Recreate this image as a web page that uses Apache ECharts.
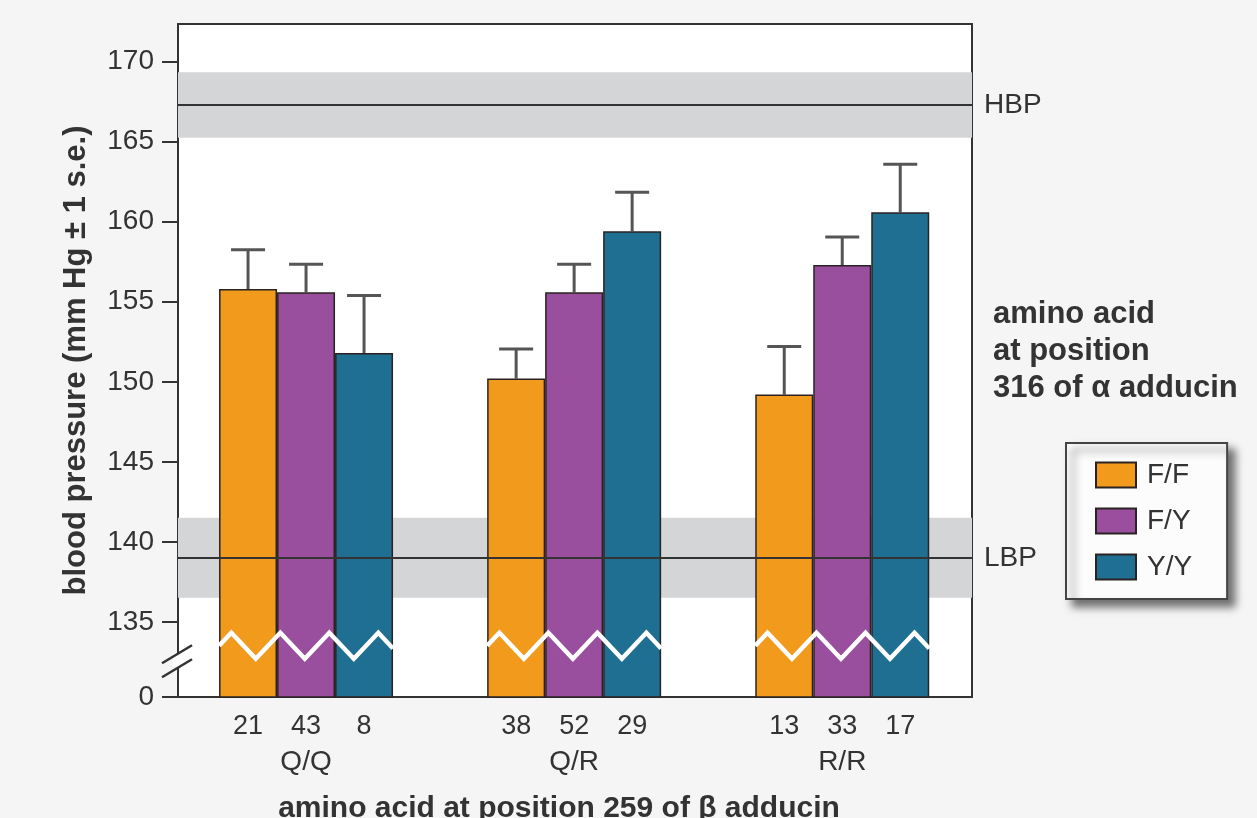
<!DOCTYPE html>
<html><head><meta charset="utf-8">
<script src="https://cdn.jsdelivr.net/npm/echarts@6/dist/echarts.min.js"></script>
<style>html,body{margin:0;padding:0;background:#f5f5f5;}#c{width:1257px;height:818px;}</style>
</head><body><div id="c"></div>
<script>
// ---- data ----
const categories = ['Q/Q', 'Q/R', 'R/R'];
const seriesNames = ['F/F', 'F/Y', 'Y/Y'];
const ffValues = [155.8, 150.2, 149.2];
const fyValues = [155.6, 155.6, 157.3];
const yyValues = [151.8, 159.4, 160.6];
const ffSE = [2.45, 1.85, 3.0];
const fySE = [1.75, 1.75, 1.75];
const yySE = [3.6, 2.45, 3.0];
const ffCounts = [21, 38, 13];
const fyCounts = [43, 52, 33];
const yyCounts = [8, 29, 17];
const yTickValues = [130.3, 135, 140, 145, 150, 155, 160, 165, 170];
const refLabels = ['HBP', 'LBP'];
const refMeans = [167.3, 139.0];
const refHalfWidths = [2.05, 2.5];
const breakLevel = 133.5;

// ---- styling ----
const FONT = '"Liberation Sans", Arial, Helvetica, sans-serif';
const colors = ['#F29A1C', '#9A4E9E', '#1E6F91'];
const BAR_W = 58;
const values = [ffValues, fyValues, yyValues];
const ses = [ffSE, fySE, yySE];
const X_MIN = -0.4776, X_MAX = 2.484, Y_MIN = 130.3, Y_MAX = 172.36;

const chart = echarts.init(document.getElementById('c'), null, {renderer: 'canvas'});

const barSeries = seriesNames.map((name, s) => ({
  name: name,
  type: 'bar',
  barWidth: BAR_W,
  barGap: '0%',
  z: 3,
  itemStyle: {color: colors[s], borderColor: '#2b2222', borderWidth: 1.5},
  data: categories.map((c, g) => [g, values[s][g]])
}));

const errData = [];
seriesNames.forEach((n, s) => categories.forEach((c, g) => {
  errData.push([g, s, values[s][g], values[s][g] + ses[s][g]]);
}));

const errSeries = {
  type: 'custom',
  z: 2,
  silent: true,
  encode: {x: 0, y: 3},
  data: errData,
  renderItem: function (params, api) {
    const g = api.value(0), s = api.value(1);
    const p0 = api.coord([g, api.value(2)]);
    const p1 = api.coord([g, api.value(3)]);
    const x = p0[0] + (s - 1) * BAR_W;
    const st = {stroke: '#555', lineWidth: 3};
    return {type: 'group', children: [
      {type: 'line', shape: {x1: x, y1: p0[1], x2: x, y2: p1[1]}, style: st},
      {type: 'line', shape: {x1: x - 17, y1: p1[1], x2: x + 17, y2: p1[1]}, style: st}
    ]};
  }
};

const zigSeries = {
  type: 'custom',
  z: 5,
  silent: true,
  encode: {x: 0, y: 1},
  data: categories.map((c, g) => [g, breakLevel]),
  renderItem: function (params, api) {
    const c = api.coord([api.value(0), api.value(1)]);
    const amp = 13;
    const half = 24.5;
    const x0 = c[0] - 1.5 * BAR_W, x1 = c[0] + 1.5 * BAR_W;
    const pts = [[x0, c[1]]];
    let x = x0 + half / 2, up = true;
    while (x < x1) {
      pts.push([x, c[1] + (up ? -amp : amp)]);
      up = !up; x += half;
    }
    const prev = pts[pts.length - 1];
    const frac = (x1 - prev[0]) / half;
    const endY = prev[1] + (up ? -1 : 1) * 2 * amp * frac;
    pts.push([x1, endY]);
    return {type: 'polyline', shape: {points: pts},
      style: {stroke: '#ffffff', lineWidth: 4.5, fill: null, lineJoin: 'miter'}};
  }
};

const refSeries = {
  type: 'line',
  z: 1,
  silent: true,
  data: [],
  markArea: {
    silent: true,
    itemStyle: {color: '#d3d5d7'},
    label: {show: false},
    data: refMeans.map((m, i) => [{yAxis: m - refHalfWidths[i]}, {yAxis: m + refHalfWidths[i]}])
  },
  markLine: {
    silent: true,
    symbol: 'none',
    lineStyle: {color: '#333', width: 2, type: 'solid'},
    label: {show: true, position: 'end', distance: 12, color: '#333', fontSize: 28, fontFamily: FONT,
      formatter: p => refLabels[p.dataIndex]},
    data: refMeans.map(m => ({yAxis: m}))
  }
};

const annotation = {type: 'text', left: 993, top: 296, z: 10,
  style: {text: 'amino acid\nat position\n316 of \u03b1 adducin', fontSize: 31, fontWeight: 'bold',
    fill: '#333', fontFamily: FONT, lineHeight: 37}};

const option = {
  backgroundColor: '#f5f5f5',
  animation: false,
  grid: {left: 178, right: 285, top: 24, bottom: 121, show: true, backgroundColor: '#ffffff',
    borderColor: '#333', borderWidth: 2, containLabel: false, outerBoundsMode: 'none'},
  legend: {
    data: seriesNames,
    orient: 'vertical',
    left: 1066, top: 443,
    padding: [18, 35, 18, 29],
    itemGap: 18,
    itemWidth: 40, itemHeight: 25,
    icon: 'rect',
    backgroundColor: '#fcfcfc',
    borderColor: '#444', borderWidth: 2,
    shadowColor: 'rgba(0,0,0,0.55)', shadowBlur: 8, shadowOffsetX: 7, shadowOffsetY: 7,
    textStyle: {fontSize: 28, color: '#333', fontFamily: FONT, padding: [0, 0, 0, 6]}
  },
  xAxis: {
    type: 'value', min: X_MIN, max: X_MAX,
    splitLine: {show: false},
    axisTick: {show: false},
    axisLine: {show: true, onZero: false, lineStyle: {color: '#333', width: 2}},
    axisLabel: {
      customValues: categories.map((c, g) => g),
      margin: 13,
      formatter: function (v) {
        const g = Math.round(v);
        return '{n|' + ffCounts[g] + '}{n|' + fyCounts[g] + '}{n|' + yyCounts[g] + '}\n{g|' + categories[g] + '}';
      },
      rich: {
        n: {width: BAR_W, align: 'center', fontSize: 27, color: '#333', fontFamily: FONT, lineHeight: 34},
        g: {align: 'center', fontSize: 28, color: '#333', fontFamily: FONT, lineHeight: 37}
      }
    },
    name: 'amino acid at position 259 of \u03b2 adducin',
    nameLocation: 'middle',
    nameGap: 97,
    nameTextStyle: {fontSize: 30, fontWeight: 'bold', color: '#333', fontFamily: FONT, padding: [0, 32, 0, 0]}
  },
  yAxis: {
    type: 'value', min: Y_MIN, max: Y_MAX,
    splitLine: {show: false},
    axisLine: {show: true, onZero: false, lineStyle: {color: '#333', width: 2}},
    axisTick: {show: true, length: 16, lineStyle: {color: '#333', width: 2}, customValues: yTickValues},
    axisLabel: {
      customValues: yTickValues,
      margin: 24,
      fontSize: 28, color: '#333', fontFamily: FONT,
      formatter: v => (v < 131 ? '0' : String(v))
    },
    name: 'blood pressure (mm Hg \u00b1 1 s.e.)',
    nameLocation: 'middle',
    nameGap: 86,
    nameRotate: 90,
    nameTextStyle: {fontSize: 31, fontWeight: 'bold', color: '#333', fontFamily: FONT}
  },
  graphic: [annotation],
  series: [refSeries].concat(barSeries, [errSeries, zigSeries])
};
chart.setOption(option);

// axis break mark on the y axis, positioned through the axis scale
const pBreak = chart.convertToPixel({gridIndex: 0}, [X_MIN, 132.6]);
const ax = pBreak[0], ay = pBreak[1];
chart.setOption({graphic: [
  annotation,
  {type: 'rect', z: 20, shape: {x: ax - 5, y: ay - 7, width: 10, height: 14}, style: {fill: '#ffffff'}},
  {type: 'line', z: 21, shape: {x1: ax - 16, y1: ay + 3, x2: ax + 14, y2: ay - 15}, style: {stroke: '#333', lineWidth: 2.5}},
  {type: 'line', z: 21, shape: {x1: ax - 16, y1: ay + 17, x2: ax + 14, y2: ay - 1}, style: {stroke: '#333', lineWidth: 2.5}}
]});
</script></body></html>
